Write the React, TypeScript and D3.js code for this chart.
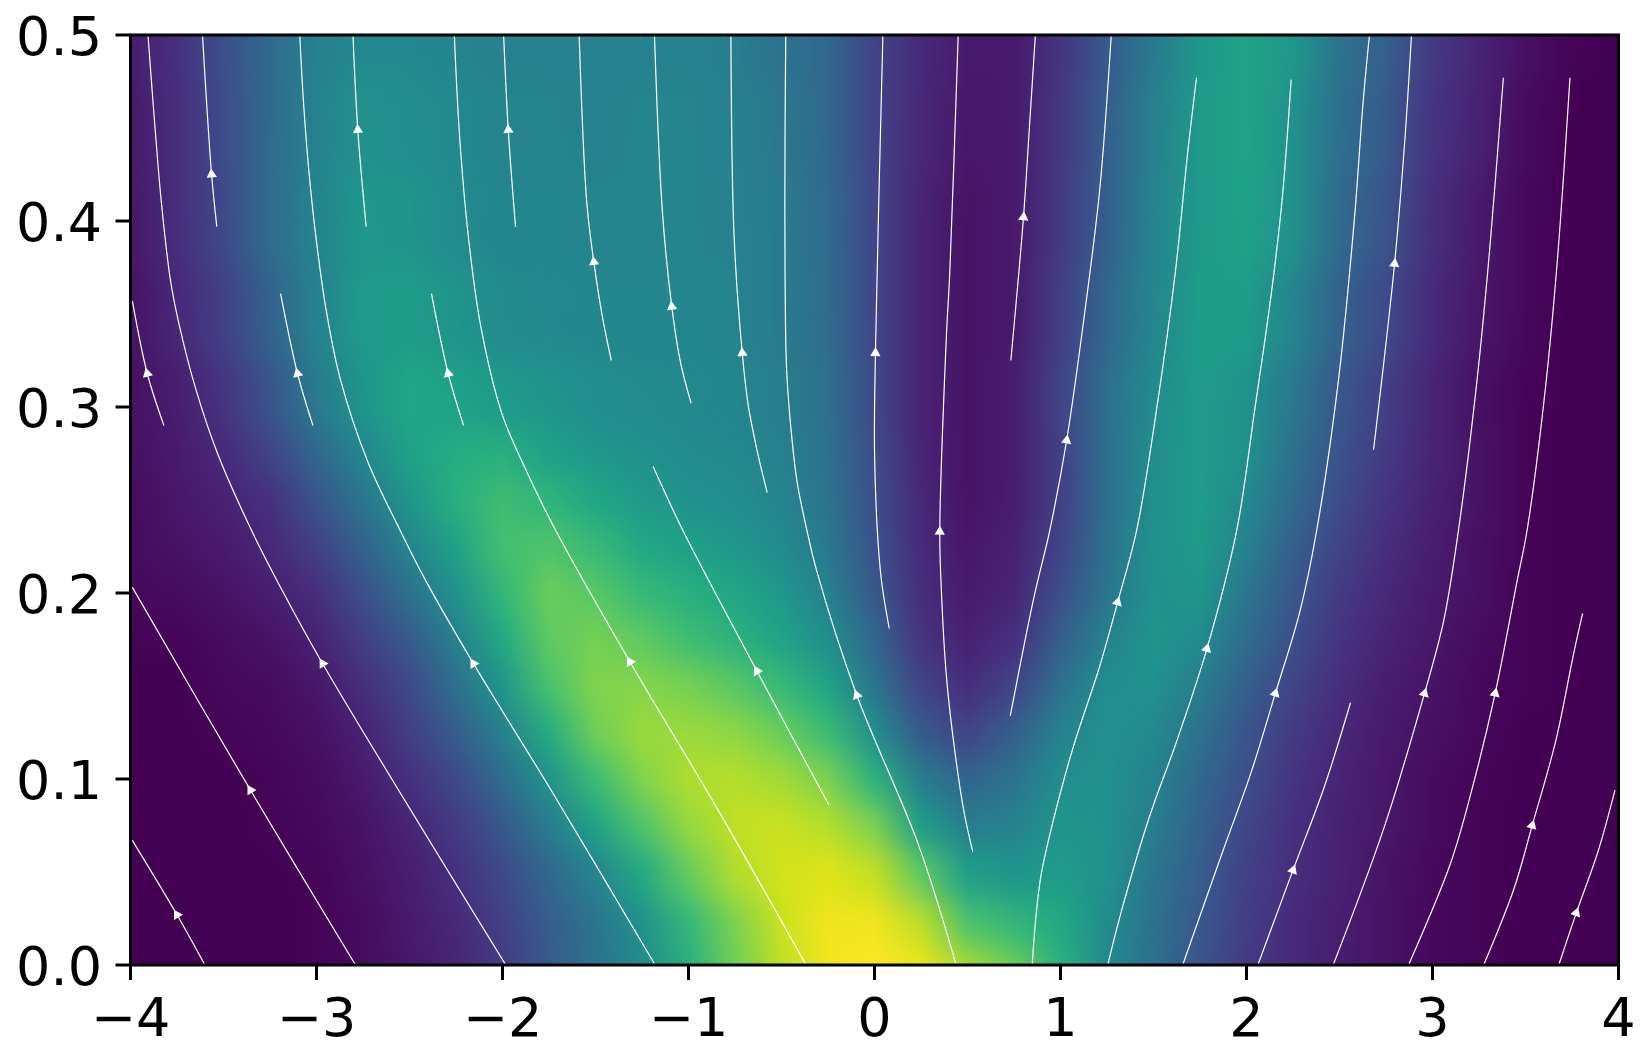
import React from "react";
import * as d3 from "d3";

const W = 1650, H = 1061;
const L = 130.5, R = 1618.5, T = 35, B = 965;

const xTicks = [-4, -3, -2, -1, 0, 1, 2, 3, 4];
const yTicks = [0, 0.1, 0.2, 0.3, 0.4, 0.5];

// heat field columns (x) and rows (y), values read as colormap position 0..1
const gridX = [-4,-3.75,-3.5,-3.25,-3,-2.75,-2.5,-2.25,-2,-1.75,-1.5,-1.25,-1,-0.75,-0.5,-0.25,0,0.25,0.5,0.75,1,1.25,1.5,1.75,2,2.25,2.5,2.75,3,3.25,3.5,3.75,4];
const gridY = [0,0.02,0.05,0.075,0.1,0.125,0.15,0.175,0.2,0.225,0.25,0.275,0.3,0.35,0.4,0.45,0.5];
const field = [
[0,0,0,0,.01,.03,.06,.10,.17,.28,.37,.48,.63,.78,.9,.98,1,.97,.87,.78,.64,.47,.36,.26,.17,.12,.08,.05,.02,.01,0,0,0],
[0,0,0,0,.01,.03,.07,.11,.19,.29,.38,.5,.66,.8,.92,.98,.98,.9,.72,.66,.6,.48,.37,.27,.18,.12,.08,.05,.02,.01,0,0,0],
[0,0,0,0,.01,.04,.08,.14,.22,.33,.45,.6,.76,.88,.93,.95,.91,.75,.56,.52,.55,.5,.39,.29,.19,.13,.09,.05,.02,.01,0,0,0],
[0,0,0,.01,.02,.05,.1,.17,.27,.42,.57,.72,.84,.91,.92,.89,.8,.55,.42,.44,.52,.5,.42,.31,.21,.14,.09,.06,.03,.01,0,0,0],
[0,0,0,.01,.03,.07,.14,.22,.35,.51,.68,.81,.88,.89,.86,.8,.64,.42,.32,.38,.49,.5,.44,.33,.24,.15,.1,.06,.03,.01,0,0,0],
[0,0,.01,.02,.04,.09,.18,.29,.43,.61,.78,.85,.85,.83,.77,.68,.49,.28,.2,.3,.44,.5,.47,.37,.26,.17,.11,.07,.04,.02,0,0,0],
[0,0,.02,.03,.06,.13,.22,.36,.52,.71,.81,.82,.79,.74,.67,.58,.39,.2,.13,.2,.37,.49,.5,.42,.3,.2,.13,.08,.05,.02,.01,0,0],
[.01,.01,.03,.05,.09,.18,.28,.43,.6,.75,.79,.75,.69,.64,.58,.49,.33,.15,.09,.14,.3,.44,.52,.48,.35,.24,.15,.1,.06,.03,.01,0,0],
[.02,.03,.05,.08,.13,.24,.37,.5,.66,.77,.74,.67,.63,.59,.53,.43,.27,.13,.07,.1,.24,.39,.5,.52,.39,.27,.17,.11,.07,.04,.01,0,0],
[.03,.05,.07,.11,.19,.31,.45,.57,.7,.72,.67,.6,.56,.53,.48,.4,.25,.12,.06,.09,.2,.37,.5,.54,.44,.3,.2,.13,.08,.04,.01,0,0],
[.03,.06,.09,.14,.26,.39,.52,.63,.69,.65,.59,.54,.51,.49,.45,.38,.24,.11,.05,.08,.19,.36,.49,.55,.47,.34,.23,.15,.09,.05,.01,0,0],
[.04,.07,.12,.2,.33,.46,.57,.62,.63,.57,.53,.5,.48,.47,.43,.37,.23,.1,.05,.08,.19,.36,.49,.55,.5,.37,.25,.17,.1,.05,.01,0,0],
[.04,.08,.15,.26,.41,.52,.59,.57,.54,.52,.49,.48,.47,.46,.42,.36,.22,.1,.05,.08,.2,.36,.48,.55,.51,.4,.27,.18,.1,.04,.01,0,0],
[.05,.11,.19,.31,.44,.54,.55,.52,.48,.47,.46,.46,.46,.45,.41,.35,.21,.1,.05,.07,.18,.33,.46,.55,.55,.45,.31,.22,.12,.06,.02,0,0],
[.06,.13,.22,.35,.45,.53,.52,.48,.46,.46,.45,.45,.45,.44,.41,.34,.21,.1,.05,.07,.17,.3,.45,.54,.57,.5,.34,.26,.13,.07,.02,0,0],
[.07,.13,.23,.34,.44,.5,.49,.47,.45,.45,.44,.45,.45,.43,.4,.33,.2,.11,.06,.07,.16,.3,.43,.54,.58,.51,.36,.28,.15,.09,.03,0,0],
[.08,.14,.24,.34,.43,.47,.47,.45,.44,.44,.43,.44,.44,.42,.38,.33,.2,.12,.07,.07,.15,.28,.41,.53,.58,.53,.38,.3,.17,.1,.04,.01,0],
];

// streamlines, listed from low end to high end, with the index of the arrow point
type P = [number, number];
const stream01: P[] = [[-3.60,0],[-3.75,.027],[-3.99,.067]];
const stream02: P[] = [[-2.79,0],[-3.355,.094],[-3.99,.203]];
const stream03: P[] = [[-1.982,0],[-2.967,.162],[-3.193,.203],[-3.351,.234],[-3.532,.275],[-3.65,.31],[-3.74,.345],[-3.785,.368],[-3.834,.41],[-3.872,.455],[-3.906,.5]];
const stream04: P[] = [[-1.179,0],[-1.745,.095],[-2.156,.162],[-2.42,.208],[-2.552,.234],[-2.722,.27],[-2.872,.315],[-2.948,.352],[-3.004,.392],[-3.042,.428],[-3.07,.464],[-3.09,.5]];
const stream05: P[] = [[-.368,0],[-.839,.083],[-1.315,.163],[-1.716,.234],[-1.892,.27],[-2.005,.297],[-2.118,.344],[-2.184,.392],[-2.231,.446],[-2.259,.5]];
const stream06: P[] = [[.439,0],[.235,.065],[-.095,.145],[-.311,.212],[-.364,.234],[-.415,.259],[-.444,.283],[-.472,.319],[-.481,.373],[-.481,.446],[-.477,.5]];
const stream07: P[] = [[.079,.181],[.037,.207],[.015,.234],[0,.277],[.005,.329],[.045,.5]];
const stream08: P[] = [[.528,.061],[.48,.083],[.424,.121],[.386,.156],[.358,.205],[.351,.233],[.386,.337],[.405,.373],[.45,.5]];
const stream09: P[] = [[.733,.325],[.801,.402],[.83,.446],[.865,.5]];
const stream10: P[] = [[.73,.134],[.858,.198],[.943,.234],[1.033,.282],[1.141,.359],[1.212,.418],[1.273,.5]];
const stream11: P[] = [[.848,0],[.867,.025],[.895,.048],[.952,.074],[1.065,.116],[1.212,.161],[1.307,.195],[1.41,.234],[1.514,.297],[1.618,.373],[1.684,.437],[1.731,.477]];
const stream12: P[] = [[1.254,0],[1.325,.028],[1.476,.079],[1.627,.121],[1.787,.17],[1.948,.234],[2.042,.297],[2.136,.363],[2.193,.413],[2.24,.476]];
const stream13: P[] = [[1.657,0],[1.872,.061],[2.023,.103],[2.155,.146],[2.287,.19],[2.378,.234],[2.495,.315],[2.58,.401],[2.627,.464],[2.661,.5]];
const stream14: P[] = [[2.061,0],[2.25,.051],[2.419,.096],[2.559,.141]];
const stream15: P[] = [[2.683,.277],[2.796,.377],[2.853,.446],[2.887,.5]];
const stream16: P[] = [[2.466,0],[2.74,.074],[2.957,.146],[3.06,.185],[3.14,.234],[3.24,.315],[3.306,.383],[3.381,.477]];
const stream17: P[] = [[2.871,0],[3.098,.055],[3.211,.094],[3.337,.146],[3.456,.207],[3.509,.234],[3.607,.31],[3.673,.381],[3.739,.477]];
const stream18: P[] = [[3.275,0],[3.438,.041],[3.536,.075],[3.664,.121],[3.758,.167],[3.807,.189]];
const stream19: P[] = [[3.679,0],[3.773,.028],[3.89,.061],[3.981,.094]];
const stream20: P[] = [[-3.82,.29],[-3.91,.318],[-3.99,.357]];
const stream21: P[] = [[-3.536,.397],[-3.564,.425],[-3.613,.5]];
const stream22: P[] = [[-3.019,.29],[-3.102,.318],[-3.193,.361]];
const stream23: P[] = [[-2.733,.397],[-2.778,.449],[-2.804,.5]];
const stream24: P[] = [[-2.209,.29],[-2.292,.318],[-2.382,.361]];
const stream25: P[] = [[-1.93,.397],[-1.969,.449],[-1.994,.5]];
const stream26: P[] = [[-1.415,.325],[-1.462,.348],[-1.509,.378],[-1.547,.41],[-1.588,.5]];
const stream27: P[] = [[-.986,.302],[-1.043,.324],[-1.09,.354],[-1.141,.406],[-1.183,.5]];
const stream28: P[] = [[-.577,.254],[-.632,.277],[-.679,.301],[-.711,.329],[-.755,.392],[-.772,.5]];
const stream29: P[] = [[-.245,.086],[-.632,.158],[-1.032,.234],[-1.19,.268]];

const streams: P[][] = [stream01,stream02,stream03,stream04,stream05,stream06,stream07,stream08,stream09,stream10,stream11,stream12,stream13,stream14,stream15,stream16,stream17,stream18,stream19,stream20,stream21,stream22,stream23,stream24,stream25,stream26,stream27,stream28,stream29];
const arrowIndex = [1,1,1,2,2,2,4,5,1,3,6,4,3,1,1,2,3,2,1,1,1,1,1,1,1,2,2,3,1];

const x = d3.scaleLinear().domain([-4, 4]).range([L, R]);
const y = d3.scaleLinear().domain([0, 0.5]).range([B, T]);
const line = d3.line<P>().x(d => x(d[0])).y(d => y(d[1])).curve(d3.curveCatmullRom.alpha(0.5));
const tri = d3.symbol().type(d3.symbolTriangle).size(46)();
const font = "'DejaVu Sans'";

export default function App() {
  const edges = gridY.map((v, i) => {
    const lo = i === 0 ? -0.06 : (gridY[i - 1] + v) / 2;
    const hi = i === gridY.length - 1 ? 0.56 : (gridY[i + 1] + v) / 2;
    return [lo, hi];
  });
  return (
    <svg width={W} height={H} viewBox={`0 0 ${W} ${H}`} style={{ position: "absolute", left: 0, top: 0, display: "block", background: "#fff" }}>
      <defs>
        <clipPath id="plot"><rect x={L} y={T} width={R - L} height={B - T} /></clipPath>
        <filter id="vblur" filterUnits="userSpaceOnUse" x={0} y={-200} width={W} height={H + 400} colorInterpolationFilters="sRGB">
          <feGaussianBlur stdDeviation="0 16" />
        </filter>
        {field.map((row, i) => (
          <linearGradient key={i} id={`row${i}`} gradientUnits="userSpaceOnUse" x1={L} x2={R} y1={0} y2={0}>
            {row.map((v, j) => (
              <stop key={j} offset={(gridX[j] + 4) / 8} stopColor={d3.interpolateViridis(v)} />
            ))}
          </linearGradient>
        ))}
      </defs>
      <g clipPath="url(#plot)">
        <g filter="url(#vblur)">
          {field.map((_, i) => (
            <rect key={i} x={L} width={R - L} y={y(edges[i][1]) - 0.5} height={y(edges[i][0]) - y(edges[i][1]) + 1} fill={`url(#row${i})`} />
          ))}
        </g>
        {streams.map((s, i) => (
          <path key={i} d={line(s) || ""} fill="none" stroke="#fff" strokeWidth={1.2} />
        ))}
        {streams.map((s, i) => {
          const k = arrowIndex[i];
          const a = s[Math.max(0, k - 1)], b = s[Math.min(s.length - 1, k + 1)];
          const ang = (Math.atan2(x(b[0]) - x(a[0]), y(a[1]) - y(b[1])) * 180) / Math.PI;
          return <path key={i} d={tri || ""} fill="#fff" transform={`translate(${x(s[k][0])},${y(s[k][1])}) rotate(${ang})`} />;
        })}
      </g>
      <rect x={L} y={T} width={R - L} height={B - T} fill="none" stroke="#000" strokeWidth={3} />
      {xTicks.map(t => (
        <g key={t}>
          <line x1={x(t)} x2={x(t)} y1={B} y2={B + 15} stroke="#000" strokeWidth={3} />
          <text x={x(t)} y={1036} textAnchor="middle" fontFamily={font} fontSize={54} fill="#000">{d3.format("d")(t)}</text>
        </g>
      ))}
      {yTicks.map(t => (
        <g key={t}>
          <line x1={L - 15} x2={L} y1={y(t)} y2={y(t)} stroke="#000" strokeWidth={3} />
          <text x={102} y={y(t) + 20} textAnchor="end" fontFamily={font} fontSize={54} fill="#000">{d3.format(".1f")(t)}</text>
        </g>
      ))}
    </svg>
  );
}
